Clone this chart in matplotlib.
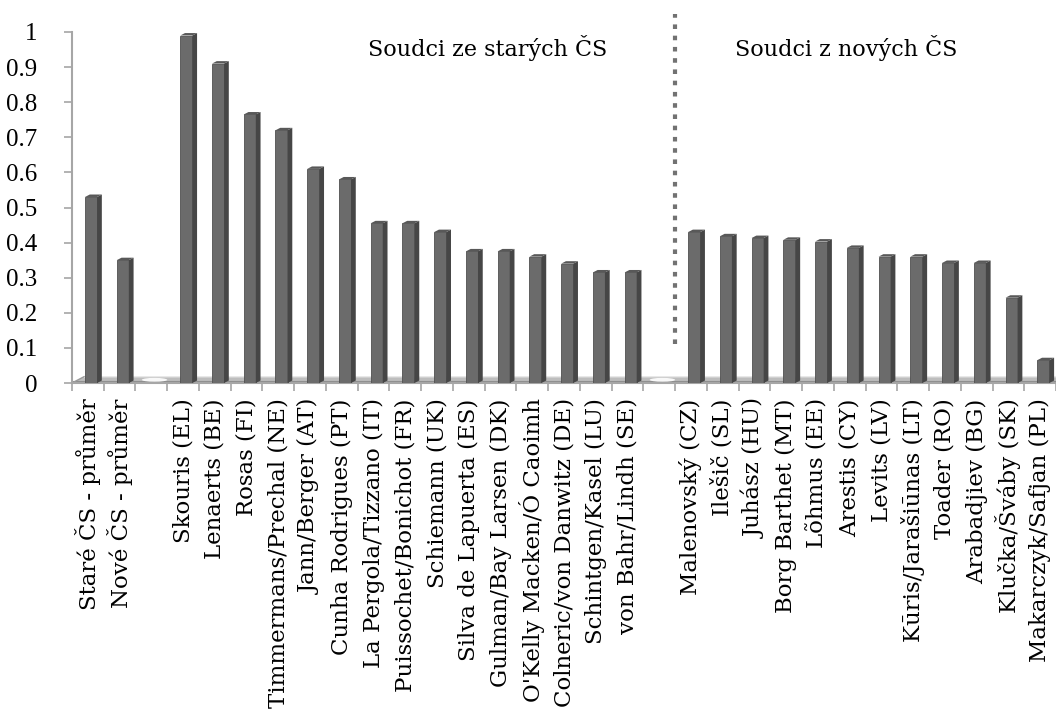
import matplotlib
matplotlib.use("Agg")
import matplotlib.pyplot as plt
from matplotlib.patches import Polygon, Ellipse

avg_labels = ["Staré ČS - průměr", "Nové ČS - průměr"]
avg_values = [0.53, 0.35]

old_labels = ["Skouris (EL)", "Lenaerts (BE)", "Rosas (FI)", "Timmermans/Prechal (NE)",
              "Jann/Berger (AT)", "Cunha Rodrigues (PT)", "La Pergola/Tizzano (IT)",
              "Puissochet/Bonichot (FR)", "Schiemann (UK)", "Silva de Lapuerta (ES)",
              "Gulman/Bay Larsen (DK)", "O'Kelly Macken/Ó Caoimh", "Colneric/von Danwitz (DE)",
              "Schintgen/Kasel (LU)", "von Bahr/Lindh (SE)"]
old_values = [0.99, 0.91, 0.765, 0.72, 0.61, 0.58, 0.455, 0.455, 0.43, 0.375,
              0.375, 0.36, 0.34, 0.315, 0.315]

new_labels = ["Malenovský (CZ)", "Ilešič (SL)", "Juhász (HU)", "Borg Barthet (MT)",
              "Lõhmus (EE)", "Arestis (CY)", "Levits (LV)", "Kūris/Jarašiūnas (LT)",
              "Toader (RO)", "Arabadjiev (BG)", "Klučka/Šváby (SK)", "Makarczyk/Safjan (PL)"]
new_values = [0.43, 0.418, 0.413, 0.408, 0.403, 0.385, 0.36, 0.36, 0.342, 0.342,
              0.243, 0.065]

old_title = "Soudci ze starých ČS"
new_title = "Soudci z nových ČS"

# one empty slot between the groups
labels = avg_labels + [""] + old_labels + [""] + new_labels
values = avg_values + [None] + old_values + [None] + new_values
n = len(labels)
xs = list(range(n))

front = "#6b6b6b"
side = "#464646"
top = "#585858"
axis_gray = "#a6a6a6"

fig = plt.figure(figsize=(10.56, 7.10), dpi=100)
ax = fig.add_axes([72 / 1056, 327 / 710, 984 / 1056, 383 / 710])
ax.set_xlim(-0.5, n - 0.5)
ax.set_ylim(0, 383 / 351)

# floor, seen a little from above
fd = 0.38
fh = 0.018
ax.add_patch(Polygon([(-0.5, 0), (n - 0.5, 0), (n - 0.5 + fd, fh), (-0.5 + fd, fh)],
                     closed=True, facecolor="#bdbdbd", edgecolor="none", zorder=1))
ax.plot([-0.5, n - 0.5], [0.0015, 0.0015], color="#8e8e8e", lw=1.5, zorder=1.2)
ax.plot([-0.5, -0.5 + fd], [0, fh], color="#9a9a9a", lw=1.0, zorder=1.2)
ax.plot([-0.5 + fd, n], [fh, fh], color="#cfcfcf", lw=0.8, zorder=1.2)
for i, v in enumerate(values):
    if v is None:
        ax.add_patch(Ellipse((i + 0.1, 0.009), 0.8, 0.011, facecolor="white",
                             edgecolor="none", alpha=0.9, zorder=1.5))

# bars with a bit of depth
w = 0.38
dx = 0.15
dy = 0.007
bx = [x - 0.09 for x, v in zip(xs, values) if v is not None]
bv = [v for v in values if v is not None]
ax.bar(bx, bv, width=w, align="edge", color=front, edgecolor="#505050", lw=0.6, zorder=3)
for x0, v in zip(bx, bv):
    ax.add_patch(Polygon([(x0 + w, 0), (x0 + w + dx, dy), (x0 + w + dx, v + dy), (x0 + w, v)],
                         closed=True, facecolor=side, edgecolor="none", zorder=3))
    ax.add_patch(Polygon([(x0, v), (x0 + w, v), (x0 + w + dx, v + dy), (x0 + dx, v + dy)],
                         closed=True, facecolor=top, edgecolor="none", zorder=3))

# separator
ax.plot([18.5, 18.5], [0.11, 1.05], color="#727272", lw=3.0, linestyle=(0, (1.1, 1.6)),
        zorder=2)

ax.text(12.6, 0.955, old_title, ha="center", va="center", fontsize=16,
        family="DejaVu Serif")
ax.text(23.9, 0.955, new_title, ha="center", va="center", fontsize=16,
        family="DejaVu Serif")

for s in ["top", "right"]:
    ax.spines[s].set_visible(False)
ax.spines["left"].set_bounds(0, 1)
ax.spines["left"].set_color(axis_gray)
ax.spines["left"].set_linewidth(1.5)
ax.spines["bottom"].set_color(axis_gray)
ax.spines["bottom"].set_linewidth(1.5)

ax.set_yticks([i / 10 for i in range(11)])
ax.set_yticklabels(["0"] + ["0.%d" % i for i in range(1, 10)] + ["1"],
                   family="Liberation Serif", fontsize=18)
ax.tick_params(axis="y", color=axis_gray, length=6, width=1.2, pad=19)

ax.set_xticks([x - 0.5 for x in xs] + [n - 0.5], minor=True)
ax.set_xticks(xs)
ax.set_xticklabels(labels, rotation=90, family="DejaVu Serif", fontsize=16.5)
ax.tick_params(axis="x", which="major", length=0, pad=11)
ax.tick_params(axis="x", which="minor", length=6, color=axis_gray, width=1.2)

fig.savefig("out.png", dpi=100)
